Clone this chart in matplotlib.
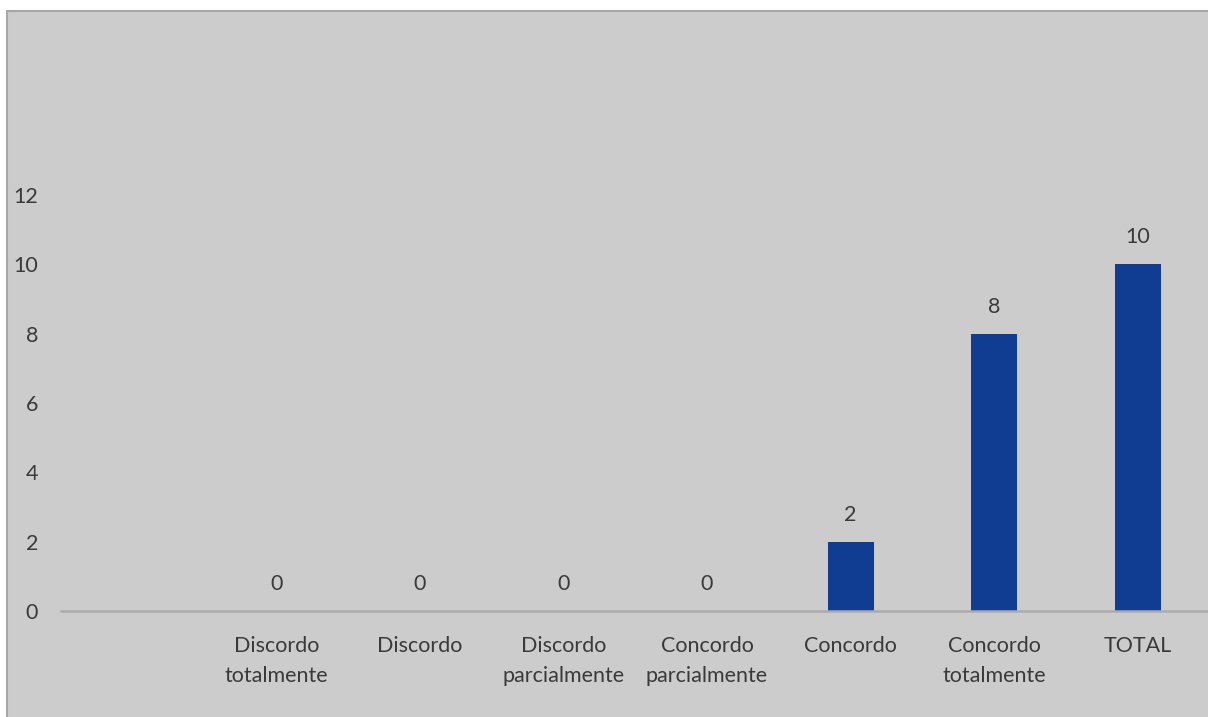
import numpy as np
import matplotlib
matplotlib.use("Agg")
import matplotlib.pyplot as plt
from matplotlib.patches import Rectangle

categories = ['', 'Discordo\ntotalmente', 'Discordo', 'Discordo\nparcialmente',
              'Concordo\nparcialmente', 'Concordo', 'Concordo\ntotalmente', 'TOTAL']
values = [np.nan, 0, 0, 0, 0, 2, 8, 10]
yticks = [0, 2, 4, 6, 8, 10, 12]

plt.rcParams['font.family'] = ['Lato', 'DejaVu Sans']
TXT = '#3A3A3A'
FS = 15.5
W, H = 1208, 717
fig = plt.figure(figsize=(W / 100, H / 100), dpi=100)
fig.patch.set_facecolor('white')

# chart area box
fig.patches.append(Rectangle((7 / W, -0.1), 1.2, 1.1 - 11 / H, transform=fig.transFigure,
                             facecolor='#CCCCCC', edgecolor='#A6A6A6', linewidth=1.5,
                             zorder=-10))

left, right = 61 / W, 1.0
bottom, top = 1 - 611 / H, 1 - 195 / H
ax = fig.add_axes([left, bottom, right - left, top - bottom])
ax.set_facecolor('none')

x = np.arange(len(categories))
ax.bar(x, values, width=0.32, color='#103D91', zorder=3)
for xi, v in zip(x, values):
    if not np.isnan(v):
        ax.annotate(f'{int(v)}', (xi, v), xytext=(0, 27), textcoords='offset pixels',
                    ha='center', va='center', fontsize=FS, color=TXT)

ax.set_xlim(-0.5, 7.49)
ax.set_ylim(0, 12)
ax.set_yticks(yticks)
ax.set_xticks(x)
ax.set_xticklabels(categories, fontsize=FS, color=TXT, linespacing=1.65)
ax.tick_params(axis='y', length=0, pad=16.5, labelsize=FS, labelcolor=TXT)
ax.tick_params(axis='x', length=0, pad=18)
for s in ['left', 'right', 'top']:
    ax.spines[s].set_visible(False)
ax.spines['bottom'].set_color('#ABABAB')
ax.spines['bottom'].set_linewidth(1.8)
ax.spines['bottom'].set_zorder(4)

fig.savefig('out.png', dpi=100)
